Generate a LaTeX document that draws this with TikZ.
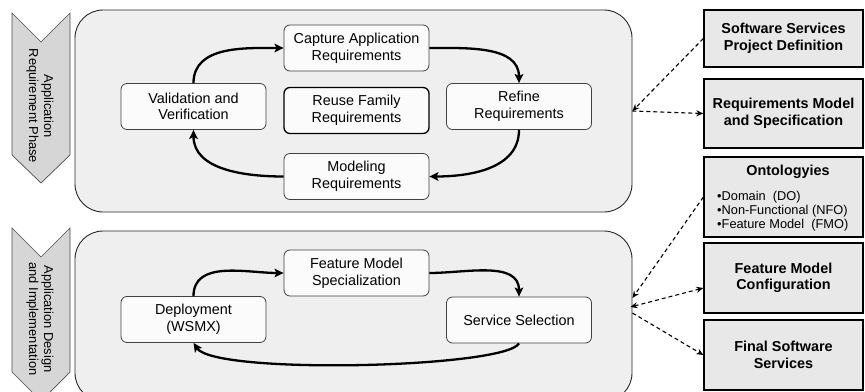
\documentclass[tikz,border=0pt]{standalone}
\usepackage{fontspec}
\setmainfont{Liberation Sans}
\usetikzlibrary{arrows.meta}

\definecolor{panelgray}{HTML}{EFEFEF}
\definecolor{stepfill}{HTML}{FBFBFB}
\definecolor{boxgray}{HTML}{E8E8E8}
\definecolor{chevgray}{HTML}{D6D6D6}

\tikzset{
  panel/.style={draw=black!85, line width=0.9pt, fill=panelgray, rounded corners=28pt,
    minimum width=557pt, inner sep=0pt},
  stepbox/.style={draw=black!75, line width=0.8pt, fill=stepfill, rounded corners=6pt,
    minimum width=145pt, minimum height=46pt, align=center, inner sep=2pt,
    font=\fontsize{14.4}{16.6}\selectfont},
  artifact/.style={draw=black, line width=1.3pt, fill=boxgray, minimum width=159pt,
    align=center, inner sep=2pt, font=\fontsize{14.4}{16.6}\selectfont\bfseries},
  flow/.style={line width=2.3pt, -{Stealth[length=9pt,width=8.5pt,inset=2pt]}},
  link/.style={line width=1.1pt, dash pattern=on 4pt off 3pt, -{Stealth[length=7pt,width=6pt]}},
  phase/.style={draw=black!70, fill=chevgray, line width=0.7pt},
  phasetext/.style={rotate=-90, align=center, font=\fontsize{12.9}{15}\selectfont},
}

\begin{document}
\begin{tikzpicture}[x=1pt,y=1pt]
\useasboundingbox (0,0) rectangle (865,-391);
\clip (0,0) rectangle (865,-391);

% phase chevrons
\draw[phase] (12,-13) -- (41,-42) -- (70,-13) -- (70,-155) -- (41,-183) -- (12,-155) -- cycle;
\draw[phase] (12,-228) -- (41,-257) -- (70,-228) -- (70,-372) -- (41,-401) -- (12,-372) -- cycle;
\node[phasetext] (reqphase) at (40,-106) {Application\\Requirement Phase};
\node[phasetext] (dsgphase) at (40,-319) {Application Design\\and Implementation};

% panels
\node[panel, minimum height=202pt] (reqpanel) at (353.5,-111) {};
\node[panel, minimum height=170pt] (dsgpanel) at (353.5,-316) {};

% requirement phase cycle
\node[stepbox] (capture) at (356.5,-48) {Capture Application\\Requirements};
\node[stepbox, line width=1.3pt, draw=black] (reuse) at (356.5,-110.5) {Reuse Family\\Requirements};
\node[stepbox] (modeling) at (356.5,-176.5) {Modeling\\Requirements};
\node[stepbox] (refine) at (519,-106.5) {Refine\\Requirements};
\node[stepbox] (validation) at (193.5,-106.5) {Validation and\\Verification};

\draw[flow] (validation.north) to[out=90,in=180] (capture.west);
\draw[flow] (capture.east) to[out=0,in=90] (refine.north);
\draw[flow] (refine.south) to[out=-90,in=0] (modeling.east);
\draw[flow] (modeling.west) to[out=180,in=-90] (validation.south);

% design and implementation cycle
\node[stepbox] (fmspec) at (356.5,-273) {Feature Model\\Specialization};
\node[stepbox] (deploy) at (193.5,-319.5) {Deployment\\(WSMX)};
\node[stepbox] (selection) at (519,-320) {Service Selection};

\draw[flow] (deploy.north) to[out=90,in=180] (fmspec.west);
\draw[flow] (fmspec.east) to[out=0,in=90] (selection.north);
\draw[flow] (selection.south) .. controls (505,-368) and (215,-375) .. (deploy.south);

% artifacts
\node[artifact, minimum height=57pt] (sspd) at (783.5,-38.5) {Software Services\\Project Definition};
\node[artifact, minimum height=69pt] (rms) at (783.5,-113.5) {Requirements Model\\and Specification};
\node[artifact, minimum height=80pt] (onto) at (783.5,-197) {};
\node[font=\fontsize{14.4}{16.6}\selectfont\bfseries, inner sep=0pt] (ontotitle) at (788,-172) {Ontologyies};
\node[anchor=north west, align=left, inner sep=0pt, font=\fontsize{12.8}{14}\selectfont] (ontolist) at (717,-191.3)
  {\textbullet Domain\ \ (DO)\\\textbullet Non-Functional (NFO)\\\textbullet Feature Model\ \ (FMO)};
\node[artifact, minimum height=70pt] (fmc) at (783.5,-278) {Feature Model\\Configuration};
\node[artifact, minimum height=70pt] (fss) at (783.5,-355) {Final Software\\Services};

\coordinate (ontoin) at ([yshift=18pt]dsgpanel.east);
\coordinate (fmcin) at ([xshift=-2pt,yshift=9pt]dsgpanel.east);
\coordinate (fssout) at ([yshift=3pt]dsgpanel.east);

\draw[link] (sspd.west) -- (reqpanel.east);
\draw[link] (reqpanel.east) -- (rms.west);
\draw[link] (onto.west) -- (ontoin);
\draw[link, {Stealth[length=7pt,width=6pt]}-{Stealth[length=7pt,width=6pt]}] (fmcin) -- ([yshift=-10pt]fmc.west);
\draw[link] (fssout) -- (fss.west);
\end{tikzpicture}
\end{document}
